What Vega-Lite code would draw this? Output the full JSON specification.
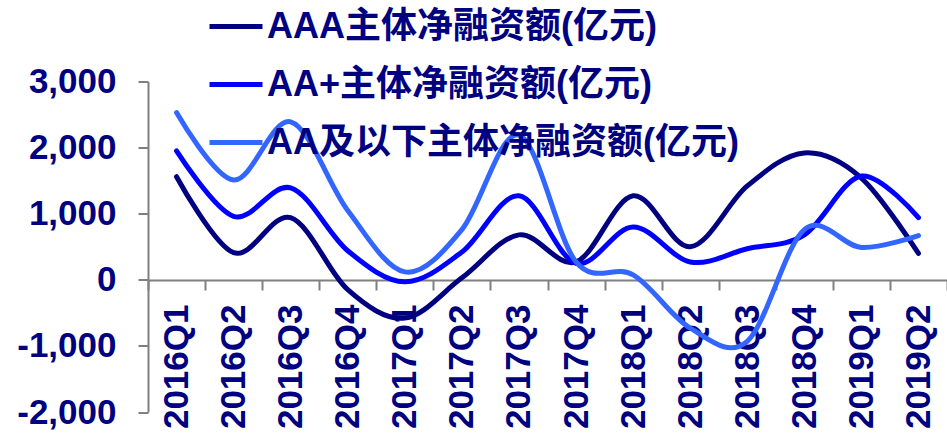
{
  "$schema": "https://vega.github.io/schema/vega-lite/v6.json",
  "autosize": {"type": "none"},
  "padding": {"left": 148, "top": 81.5, "right": 0, "bottom": 25},
  "width": 799,
  "height": 330.5,
  "background": "white",
  "data": {
    "values": [
      {"q": "2016Q1", "s": "AAA主体净融资额(亿元)", "v": 1560},
      {"q": "2016Q2", "s": "AAA主体净融资额(亿元)", "v": 410},
      {"q": "2016Q3", "s": "AAA主体净融资额(亿元)", "v": 940},
      {"q": "2016Q4", "s": "AAA主体净融资额(亿元)", "v": -150},
      {"q": "2017Q1", "s": "AAA主体净融资额(亿元)", "v": -580},
      {"q": "2017Q2", "s": "AAA主体净融资额(亿元)", "v": 30},
      {"q": "2017Q3", "s": "AAA主体净融资额(亿元)", "v": 680},
      {"q": "2017Q4", "s": "AAA主体净融资额(亿元)", "v": 270},
      {"q": "2018Q1", "s": "AAA主体净融资额(亿元)", "v": 1270},
      {"q": "2018Q2", "s": "AAA主体净融资额(亿元)", "v": 500},
      {"q": "2018Q3", "s": "AAA主体净融资额(亿元)", "v": 1420},
      {"q": "2018Q4", "s": "AAA主体净融资额(亿元)", "v": 1920},
      {"q": "2019Q1", "s": "AAA主体净融资额(亿元)", "v": 1540},
      {"q": "2019Q2", "s": "AAA主体净融资额(亿元)", "v": 400},
      {"q": "2016Q1", "s": "AA+主体净融资额(亿元)", "v": 1950},
      {"q": "2016Q2", "s": "AA+主体净融资额(亿元)", "v": 960},
      {"q": "2016Q3", "s": "AA+主体净融资额(亿元)", "v": 1390},
      {"q": "2016Q4", "s": "AA+主体净融资额(亿元)", "v": 440},
      {"q": "2017Q1", "s": "AA+主体净融资额(亿元)", "v": -30},
      {"q": "2017Q2", "s": "AA+主体净融资额(亿元)", "v": 420},
      {"q": "2017Q3", "s": "AA+主体净融资额(亿元)", "v": 1270},
      {"q": "2017Q4", "s": "AA+主体净融资额(亿元)", "v": 250},
      {"q": "2018Q1", "s": "AA+主体净融资额(亿元)", "v": 800},
      {"q": "2018Q2", "s": "AA+主体净融资额(亿元)", "v": 270},
      {"q": "2018Q3", "s": "AA+主体净融资额(亿元)", "v": 470},
      {"q": "2018Q4", "s": "AA+主体净融资额(亿元)", "v": 680},
      {"q": "2019Q1", "s": "AA+主体净融资额(亿元)", "v": 1570},
      {"q": "2019Q2", "s": "AA+主体净融资额(亿元)", "v": 940},
      {"q": "2016Q1", "s": "AA及以下主体净融资额(亿元)", "v": 2530},
      {"q": "2016Q2", "s": "AA及以下主体净融资额(亿元)", "v": 1510},
      {"q": "2016Q3", "s": "AA及以下主体净融资额(亿元)", "v": 2390},
      {"q": "2016Q4", "s": "AA及以下主体净融资额(亿元)", "v": 1050},
      {"q": "2017Q1", "s": "AA及以下主体净融资额(亿元)", "v": 120},
      {"q": "2017Q2", "s": "AA及以下主体净融资额(亿元)", "v": 760},
      {"q": "2017Q3", "s": "AA及以下主体净融资额(亿元)", "v": 2190},
      {"q": "2017Q4", "s": "AA及以下主体净融资额(亿元)", "v": 270},
      {"q": "2018Q1", "s": "AA及以下主体净融资额(亿元)", "v": 75},
      {"q": "2018Q2", "s": "AA及以下主体净融资额(亿元)", "v": -730},
      {"q": "2018Q3", "s": "AA及以下主体净融资额(亿元)", "v": -930},
      {"q": "2018Q4", "s": "AA及以下主体净融资额(亿元)", "v": 760},
      {"q": "2019Q1", "s": "AA及以下主体净融资额(亿元)", "v": 490},
      {"q": "2019Q2", "s": "AA及以下主体净融资额(亿元)", "v": 670}
    ]
  },
  "mark": {"type": "line", "strokeWidth": 5, "interpolate": "cardinal", "tension": 0, "strokeCap": "round", "strokeJoin": "round"},
  "encoding": {
    "x": {
      "field": "q", "type": "ordinal", "sort": null,
      "scale": {"paddingInner": 0, "paddingOuter": 0},
      "axis": {
        "title": null, "offset": -132, "labelAngle": -90, "labelAlign": "right", "labelBaseline": "middle",
        "labelPadding": 14, "tickBand": "extent", "tickSize": 10, "tickColor": "#808080", "tickWidth": 2,
        "domainColor": "#808080", "domainWidth": 2,
        "labelFont": "Liberation Sans", "labelFontSize": 35, "labelFontWeight": "bold", "labelColor": "#000080"
      }
    },
    "y": {
      "field": "v", "type": "quantitative",
      "scale": {"domain": [-2000, 3000], "nice": false, "zero": false},
      "axis": {
        "title": null, "values": [-2000, -1000, 0, 1000, 2000, 3000], "format": ",d",
        "labelExpr": "replace(datum.label, '\u2212', '-')", "grid": false,
        "tickSize": 10, "tickColor": "#808080", "tickWidth": 2, "domainColor": "#808080", "domainWidth": 2,
        "labelPadding": 22, "labelFont": "Liberation Sans", "labelFontSize": 35, "labelFontWeight": "bold", "labelColor": "#000080"
      }
    },
    "color": {
      "field": "s", "type": "nominal", "sort": null,
      "scale": {
        "domain": ["AAA主体净融资额(亿元)", "AA+主体净融资额(亿元)", "AA及以下主体净融资额(亿元)"],
        "range": ["#000080", "#0000FF", "#3366FF"]
      },
      "legend": {
        "title": null, "orient": "none", "legendX": 59, "legendY": -84, "padding": 0,
        "symbolType": "stroke", "symbolSize": 2809, "symbolStrokeWidth": 5, "labelOffset": 2, "rowPadding": 11,
        "labelFont": "Liberation Sans, Noto Sans CJK SC", "labelFontSize": 36, "labelFontWeight": "bold", "labelColor": "#000080",
        "labelLimit": 700
      }
    }
  },
  "config": {"view": {"stroke": null}}
}
